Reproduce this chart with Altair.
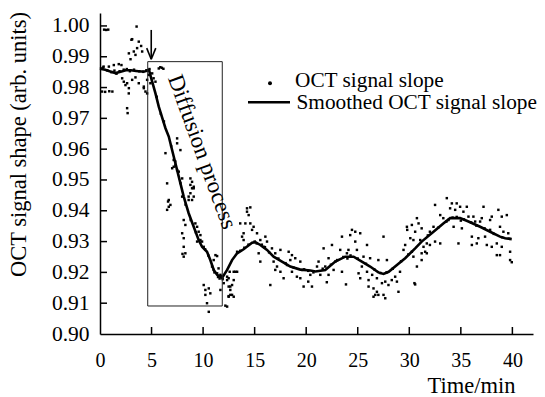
import altair as alt
import pandas as pd

FONT = "Liberation Serif"

# Smoothed curve (time in min, signal)
smooth = [
    (0, 0.9861), (0.5, 0.9858), (1.0, 0.9852), (1.5, 0.9847), (2.0, 0.9851),
    (2.5, 0.9856), (3.0, 0.9856), (3.5, 0.9854), (4.0, 0.9852), (4.4, 0.9853),
    (4.75, 0.9857), (5.06, 0.9819), (5.38, 0.9781), (5.7, 0.9738), (6.03, 0.9702),
    (6.35, 0.9668), (6.67, 0.9641), (7.15, 0.9576), (7.64, 0.9511), (8.12, 0.9446),
    (8.6, 0.9392), (9.09, 0.9348), (9.57, 0.9305), (9.9, 0.9283), (10.38, 0.9267),
    (10.7, 0.9240), (11.03, 0.9208), (11.36, 0.9192), (11.84, 0.9182), (12.33, 0.9208),
    (12.81, 0.9240), (13.3, 0.9262), (13.93, 0.9275), (14.75, 0.9296), (15.07, 0.9298),
    (15.55, 0.9289), (16.2, 0.9273), (16.84, 0.9251), (17.65, 0.9235), (18.46, 0.9219),
    (19.43, 0.9209), (20.4, 0.9206), (20.9, 0.9203), (21.85, 0.9208), (22.82, 0.9235),
    (23.79, 0.9251), (24.6, 0.9251), (25.4, 0.9235), (26.2, 0.9219), (27.0, 0.9200),
    (27.5, 0.9195), (28.0, 0.9202), (28.8, 0.9224), (29.6, 0.9246), (30.57, 0.9278),
    (31.2, 0.9300), (32.35, 0.9332), (33.3, 0.9359), (33.96, 0.9376), (34.93, 0.9376),
    (35.74, 0.9365), (36.87, 0.9348), (37.84, 0.9332), (38.8, 0.9316), (39.3, 0.9311),
    (39.94, 0.9308),
]

# Raw scatter points, grouped by time range
pts_0_5 = [
    (0.4, 0.9988), (0.6, 0.9987), (0.8, 0.9988), (3.55, 0.9998), (3.05, 0.9955),
    (3.12, 0.9957), (3.76, 0.9949), (3.99, 0.9935), (3.6, 0.9928), (3.28, 0.9917),
    (2.8, 0.9911), (3.44, 0.9906), (2.96, 0.9892), (4.09, 0.9917), (0.86, 0.9868),
    (1.34, 0.9873), (1.82, 0.9876), (2.08, 0.9873), (0.35, 0.9868), (2.15, 0.9830),
    (2.31, 0.9819), (2.47, 0.9808), (2.8, 0.9798), (2.63, 0.9814), (3.12, 0.9825),
    (3.44, 0.9833), (3.76, 0.9814), (4.25, 0.9803), (4.41, 0.9787), (4.57, 0.9825),
    (4.73, 0.9841), (4.89, 0.9814), (5.2, 0.9830), (5.38, 0.9819), (5.06, 0.9846),
    (2.79, 0.9781), (0.2, 0.9787), (0.5, 0.9786), (0.9, 0.9788), (1.2, 0.9787),
    (2.63, 0.9733), (2.68, 0.9717), (5.7, 0.9862), (5.85, 0.9866), (6.0, 0.9864),
    (6.15, 0.9861), (0.1, 0.9862), (0.3, 0.9865), (0.7, 0.9856), (1.1, 0.9850),
    (1.6, 0.9845), (1.9, 0.9853), (2.3, 0.9858), (2.6, 0.9860), (3.3, 0.9858),
    (3.8, 0.9853), (4.2, 0.9851), (4.5, 0.9856), (4.8, 0.9860), (1.4, 0.9855),
    (2.9, 0.9853), (4.25, 0.9798), (4.57, 0.9781),
]
pts_5_12 = [
    (7.48, 0.9619), (6.35, 0.9587), (7.15, 0.9565), (7.32, 0.9549), (7.48, 0.9532),
    (7.64, 0.9527), (7.0, 0.9538), (6.51, 0.9489), (7.97, 0.9505), (8.77, 0.9505),
    (8.93, 0.9494), (9.09, 0.9473), (8.77, 0.9457), (8.6, 0.9446), (8.93, 0.9435),
    (9.09, 0.9446), (6.67, 0.9435), (6.83, 0.9419), (6.51, 0.9403), (7.97, 0.9446),
    (8.12, 0.9370), (8.28, 0.9354), (7.97, 0.9327), (8.12, 0.9311), (8.12, 0.9283),
    (8.28, 0.9262), (8.12, 0.9251), (9.25, 0.9359), (9.42, 0.9348), (9.57, 0.9332),
    (9.74, 0.9321), (9.42, 0.9300), (9.9, 0.9300), (10.06, 0.9283), (11.2, 0.9256),
    (11.03, 0.9240), (10.87, 0.9219), (11.36, 0.9197), (11.5, 0.9213), (11.03, 0.9208),
    (11.68, 0.9192), (10.06, 0.9159), (10.22, 0.9143), (10.55, 0.9148), (10.7, 0.9132),
    (10.22, 0.9127), (11.68, 0.9143), (12.0, 0.9165), (12.33, 0.9175), (12.48, 0.9154),
    (12.64, 0.9127), (10.38, 0.9100), (10.55, 0.9072), (12.33, 0.9089), (12.33, 0.9186),
    (6.67, 0.9413), (6.6, 0.9430), (8.0, 0.9260), (9.09, 0.9478), (8.77, 0.9484),
    (8.6, 0.9435), (9.74, 0.9305), (11.36, 0.9253), (12.16, 0.9092), (12.64, 0.9154),
    (12.81, 0.9127), (12.97, 0.9175), (13.13, 0.9202), (13.3, 0.9202), (12.48, 0.9121),
    (5.5, 0.9770), (5.9, 0.9715), (6.2, 0.9690), (6.9, 0.9610), (7.3, 0.9560),
    (7.8, 0.9490), (8.3, 0.9420), (8.8, 0.9370), (9.3, 0.9330), (10.2, 0.9275),
    (10.5, 0.9255), (11.1, 0.9200), (11.6, 0.9180), (11.9, 0.9178), (11.45, 0.9185),
    (11.75, 0.9188), (7.48, 0.9635), (7.8, 0.9597), (7.15, 0.9543), (8.93, 0.9473),
]
pts_12_21 = [
    (14.26, 0.9408), (14.58, 0.9411), (14.26, 0.9397), (14.42, 0.9386), (13.6, 0.9359),
    (14.1, 0.9359), (14.58, 0.9359), (14.9, 0.9348), (14.75, 0.9338), (13.93, 0.9327),
    (13.78, 0.9316), (13.93, 0.9305), (15.23, 0.9327), (15.55, 0.9305), (16.04, 0.9316),
    (16.2, 0.9300), (15.87, 0.9283), (15.39, 0.9262), (15.55, 0.9235), (16.68, 0.9278),
    (17.0, 0.9262), (17.5, 0.9273), (16.84, 0.9235), (17.17, 0.9219), (17.0, 0.9208),
    (17.5, 0.9202), (17.81, 0.9181), (16.52, 0.9159), (18.3, 0.9267), (18.62, 0.9256),
    (18.46, 0.9240), (18.94, 0.9246), (18.14, 0.9224), (18.62, 0.9202), (19.1, 0.9186),
    (19.43, 0.9181), (19.6, 0.9208), (19.75, 0.9154), (20.2, 0.9170), (20.56, 0.9154),
    (20.4, 0.9192), (21.05, 0.9219), (21.2, 0.9235), (19.43, 0.9235), (12.58, 0.9202),
    (12.97, 0.9202), (12.48, 0.9181), (12.81, 0.9159), (12.64, 0.9143), (12.48, 0.9123),
    (12.97, 0.9121), (13.3, 0.9267), (13.6, 0.9270), (14.0, 0.9280), (14.4, 0.9290),
    (15.0, 0.9300), (15.7, 0.9290), (16.4, 0.9265), (17.3, 0.9245), (18.0, 0.9230),
    (18.8, 0.9215), (19.8, 0.9210), (20.2, 0.9205), (20.7, 0.9200), (15.2, 0.9294),
    (16.0, 0.9282),
]
pts_21_30 = [
    (24.44, 0.9338), (24.76, 0.9332), (24.27, 0.9321), (23.47, 0.9316), (25.24, 0.9327),
    (24.76, 0.9300), (27.5, 0.9316), (22.5, 0.9289), (25.9, 0.9289), (21.69, 0.9278),
    (23.3, 0.9273), (24.1, 0.9273), (24.92, 0.9273), (23.95, 0.9262), (25.56, 0.9251),
    (26.2, 0.9246), (27.0, 0.9240), (27.83, 0.9240), (22.17, 0.9246), (22.82, 0.9235),
    (21.85, 0.9219), (22.66, 0.9208), (23.47, 0.9202), (21.37, 0.9192), (22.17, 0.9192),
    (25.4, 0.9219), (25.08, 0.9197), (25.9, 0.9202), (26.4, 0.9192), (25.24, 0.9181),
    (26.05, 0.9175), (26.86, 0.9181), (27.35, 0.9165), (27.67, 0.9170), (27.98, 0.9159),
    (28.3, 0.9175), (28.63, 0.9186), (28.8, 0.9170), (29.1, 0.9202), (22.0, 0.9168),
    (23.86, 0.9161), (26.05, 0.9154), (26.53, 0.9148), (26.86, 0.9137), (26.7, 0.9127),
    (27.0, 0.9127), (27.5, 0.9127), (27.67, 0.9116), (26.53, 0.9121), (28.95, 0.9137),
    (29.44, 0.9273), (29.6, 0.9289), (29.77, 0.9348), (29.8, 0.9338), (30.25, 0.9354),
    (30.1, 0.9311), (30.4, 0.9251), (30.5, 0.9165), (21.6, 0.9212), (22.4, 0.9225),
    (23.0, 0.9240), (23.6, 0.9250), (24.3, 0.9255), (25.0, 0.9245), (25.8, 0.9228),
    (26.6, 0.9210), (27.2, 0.9198), (27.8, 0.9200), (28.4, 0.9212), (29.2, 0.9236),
    (29.9, 0.9258), (24.0, 0.9245),
]
pts_30_40 = [
    (33.64, 0.9441), (34.13, 0.9424), (34.6, 0.9424), (33.96, 0.9408), (34.45, 0.9403),
    (35.25, 0.9397), (35.58, 0.9413), (34.93, 0.9413), (32.5, 0.9419), (37.2, 0.9413),
    (38.64, 0.9403), (39.46, 0.9386), (38.97, 0.9381), (38.0, 0.9381), (37.84, 0.9370),
    (37.03, 0.9376), (36.22, 0.9381), (35.74, 0.9381), (36.39, 0.9365), (36.87, 0.9365),
    (33.0, 0.9386), (33.3, 0.9376), (30.74, 0.9376), (30.9, 0.9359), (30.57, 0.9332),
    (31.2, 0.9343), (32.35, 0.9348), (32.0, 0.9332), (34.3, 0.9348), (35.1, 0.9343),
    (38.8, 0.9348), (37.84, 0.9338), (39.13, 0.9332), (39.6, 0.9327), (36.07, 0.9316),
    (36.7, 0.9311), (37.35, 0.9316), (36.07, 0.9289), (36.55, 0.9294), (37.52, 0.9289),
    (38.0, 0.9283), (38.49, 0.9294), (38.97, 0.9283), (38.49, 0.9256), (38.8, 0.9256),
    (39.78, 0.9267), (39.78, 0.9240), (39.94, 0.9233), (34.77, 0.9294), (32.5, 0.9300),
    (32.0, 0.9289), (31.7, 0.9294), (31.38, 0.9283), (31.54, 0.9267), (31.2, 0.9262),
    (31.7, 0.9262), (33.0, 0.9294), (31.06, 0.9305), (30.4, 0.9305), (30.25, 0.9267),
    (31.2, 0.9240), (30.74, 0.9219), (30.57, 0.9161), (31.8, 0.9320), (32.8, 0.9345),
    (33.6, 0.9365), (34.2, 0.9378), (34.6, 0.9380), (35.3, 0.9372), (36.0, 0.9362),
    (36.5, 0.9352), (37.3, 0.9343), (38.2, 0.9325), (39.0, 0.9314), (39.7, 0.9309),
    (33.8, 0.9370), (35.0, 0.9368),
]

x_ticks = [0, 5, 10, 15, 20, 25, 30, 35, 40]
y_ticks = [0.90, 0.91, 0.92, 0.93, 0.94, 0.95, 0.96, 0.97, 0.98, 0.99, 1.00]

# Annotation geometry (data units)
box = [{"x": 4.63, "x2": 11.86, "y": 0.90909, "y2": 0.98841}]
arrow = [
    {"x": 4.97, "x2": 4.97, "y": 0.9987, "y2": 0.9892},
    {"x": 4.53, "x2": 4.97, "y": 0.9928, "y2": 0.9892},
    {"x": 5.41, "x2": 4.97, "y": 0.9928, "y2": 0.9892},
]
label_pos = [{"x": 9.9, "y": 0.9591, "t": "Diffusion process"}]

W, H = 433, 321

scatter_df = pd.DataFrame(pts_0_5 + pts_5_12 + pts_12_21 + pts_21_30 + pts_30_40,
                          columns=["t", "v"])
smooth_df = pd.DataFrame(smooth, columns=["t", "v"])

xs = alt.Scale(domain=[0, 42], nice=False, zero=False)
ys = alt.Scale(domain=[0.90, 1.0042], nice=False, zero=False)

xaxis = alt.Axis(values=x_ticks, title="Time/min", labelOverlap=False)
yaxis = alt.Axis(values=y_ticks, format=".2f", title="OCT signal shape (arb. units)",
                 labelOverlap=False)

points = alt.Chart(scatter_df).mark_square(size=6, color="black", opacity=1).encode(
    x=alt.X("t:Q", scale=xs, axis=xaxis),
    y=alt.Y("v:Q", scale=ys, axis=yaxis),
)
line = alt.Chart(smooth_df).mark_line(color="black", strokeWidth=2.6).encode(
    x=alt.X("t:Q", scale=xs, axis=xaxis), y=alt.Y("v:Q", scale=ys, axis=yaxis)
)
rect = alt.Chart(pd.DataFrame(box)).mark_rect(fillOpacity=0, stroke="#222", strokeWidth=1).encode(
    x=alt.X("x:Q", scale=xs, axis=xaxis), x2="x2:Q",
    y=alt.Y("y:Q", scale=ys, axis=yaxis), y2="y2:Q"
)
arr = alt.Chart(pd.DataFrame(arrow)).mark_rule(color="black", strokeWidth=1.6).encode(
    x=alt.X("x:Q", scale=xs, axis=xaxis), x2="x2:Q",
    y=alt.Y("y:Q", scale=ys, axis=yaxis), y2="y2:Q"
)
diff_text = alt.Chart(pd.DataFrame(label_pos)).mark_text(
    font=FONT, fontSize=23, angle=70, align="center", baseline="middle", color="black"
).encode(x=alt.X("x:Q", scale=xs, axis=xaxis), y=alt.Y("y:Q", scale=ys, axis=yaxis), text="t:N")

# inward ticks
xt = alt.Chart(pd.DataFrame({"t": x_ticks[1:]})).mark_rule(color="black", strokeWidth=1.5).encode(
    x=alt.X("t:Q", scale=xs, axis=xaxis), y=alt.value(H), y2=alt.value(H - 7)
)
yt = alt.Chart(pd.DataFrame({"v": y_ticks[1:]})).mark_rule(color="black", strokeWidth=1.5).encode(
    y=alt.Y("v:Q", scale=ys, axis=yaxis), x=alt.value(0), x2=alt.value(7)
)

# legend
one = pd.DataFrame({"a": [0]})
leg_dot = alt.Chart(one).mark_circle(size=16, color="black", opacity=1).encode(
    x=alt.value(170), y=alt.value(70.3)
)
leg_line = alt.Chart(one).mark_rule(color="black", strokeWidth=2.6).encode(
    x=alt.value(148), x2=alt.value(190), y=alt.value(89.3)
)
leg_t1 = alt.Chart(one).mark_text(text="OCT signal slope", font=FONT, fontSize=21.3,
                                  align="left", baseline="alphabetic", color="black").encode(
    x=alt.value(195), y=alt.value(74.3)
)
leg_t2 = alt.Chart(one).mark_text(text="Smoothed OCT signal slope", font=FONT, fontSize=21.3,
                                  align="left", baseline="alphabetic", color="black").encode(
    x=alt.value(196.5), y=alt.value(96.3)
)

chart = alt.layer(points, line, rect, arr, diff_text, xt, yt,
                  leg_dot, leg_line, leg_t1, leg_t2).properties(
    width=W, height=H,
    autosize=alt.AutoSizeParams(type="none"),
    padding={"left": 100, "top": 13, "right": 12, "bottom": 63},
    background="white",
).configure_view(stroke=None).configure_axis(
    ticks=False, tickSize=0, grid=False,
    labelFont=FONT, labelColor="black", labelFlush=False,
    domainColor="black", domainWidth=1.5,
    titleFont=FONT, titleFontWeight="normal", titleColor="black",
).configure_axisX(
    labelFontSize=20, labelPadding=16, titleFontSize=22.5,
    titleX=415, titleY=58, titleAlign="right",
    titleBaseline="alphabetic", titleAngle=0,
).configure_axisY(
    labelFontSize=21.5, labelPadding=11, titleFontSize=22.5,
    titleX=-75, titleY=131, titleAngle=-90, titleAlign="center",
    titleBaseline="alphabetic",
)

chart.save("out.html", embed_options={"renderer": "svg", "actions": False})
